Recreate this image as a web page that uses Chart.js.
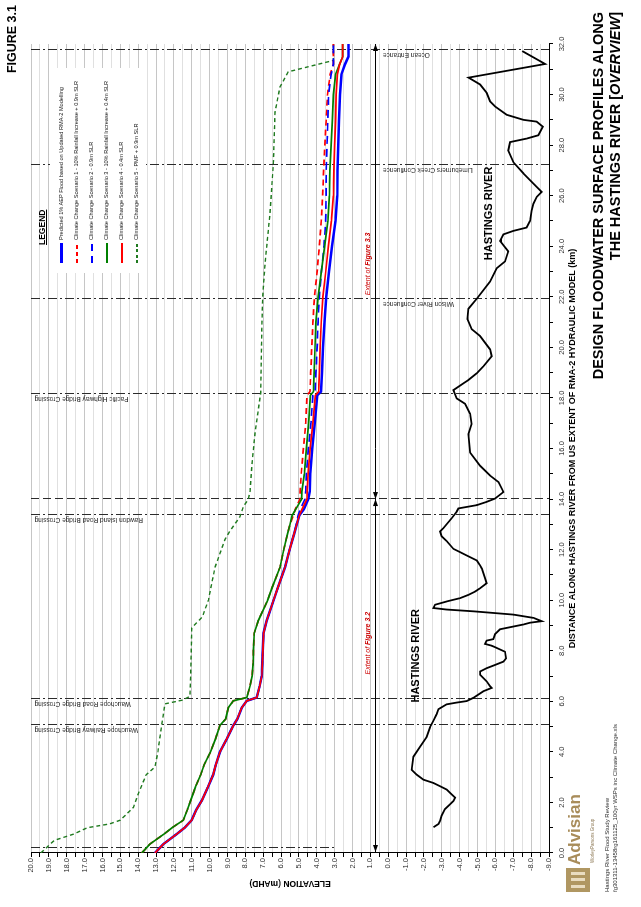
<!DOCTYPE html>
<html lang="en">
<head>
<meta charset="utf-8">
<title>Figure 3.1 - Design floodwater surface profiles along the Hastings River</title>
<script src="https://cdn.jsdelivr.net/npm/chart.js@4.4.1/dist/chart.umd.min.js"></script>
<style>
  html, body { margin: 0; padding: 0; background: #fff; }
  body { width: 641px; height: 907px; overflow: hidden; position: relative; font-family: 'Liberation Sans', Arial, sans-serif; color: #000; }
  /* the sheet is laid out landscape and turned a quarter turn anticlockwise */
  #page { position: absolute; left: 0; top: 0; width: 907px; height: 641px; transform-origin: 0 0; transform: translate(0, 907px) rotate(-90deg); }
  #chart { position: absolute; left: 0; top: 0; }
  #figNo { position: absolute; right: 5px; top: 5px; font-weight: bold; font-size: 12.5px; }
  #title { position: absolute; right: 12px; top: 590px; text-align: right; font-weight: bold; font-size: 14.5px; line-height: 17px; white-space: nowrap; }
  #legendTitle { position: absolute; left: 662px; top: 37px; font-weight: bold; font-size: 8.5px; text-decoration: underline; }
  #legend { position: absolute; left: 634px; top: 50px; width: 205px; height: 96px; background: #fff; }
  #legend .item { position: absolute; left: 10px; height: 10px; font-size: 5.6px; line-height: 10px; white-space: nowrap; color: #222; }
  #legend .swatch { display: inline-block; width: 20px; height: 2px; vertical-align: middle; margin-right: 3px; }
  #mark { position: absolute; left: 15px; top: 566px; width: 24px; height: 24px; background: #b09762; }
  #mark span { position: absolute; top: 5px; width: 3px; height: 14px; background: #e9dcc0; }
  #brand { position: absolute; left: 42px; top: 565px; font-weight: bold; font-size: 17px; color: #a88c5a; }
  #group { position: absolute; left: 44px; top: 590px; font-size: 4.5px; color: #8a7550; }
  #ref { position: absolute; left: 15px; top: 603px; font-size: 6px; line-height: 8px; color: #333; white-space: nowrap; }
</style>
</head>
<body>
<div id="page">
  <canvas id="chart" width="907" height="641"></canvas>
  <div id="figNo">FIGURE 3.1</div>
  <div id="title">DESIGN FLOODWATER SURFACE PROFILES ALONG<br>THE HASTINGS RIVER [<i>OVERVIEW</i>]</div>
  <div id="legendTitle">LEGEND</div>
  <div id="legend">
    <div class="item" style="top:6px"><span class="swatch" style="height:2.5px;background:#0000ff"></span>Predicted 1% AEP Flood based on Updated RMA-2 Modelling</div>
    <div class="item" style="top:21px"><span class="swatch" style="background:repeating-linear-gradient(90deg,#ff0000 0 4px,transparent 4px 7px)"></span>Climate Change Scenario 1 - 10% Rainfall Increase + 0.9m SLR</div>
    <div class="item" style="top:36px"><span class="swatch" style="background:repeating-linear-gradient(90deg,#0000ff 0 7px,transparent 7px 12px)"></span>Climate Change Scenario 2 - 0.9m SLR</div>
    <div class="item" style="top:51px"><span class="swatch" style="background:#008000"></span>Climate Change Scenario 3 - 10% Rainfall Increase + 0.4m SLR</div>
    <div class="item" style="top:66px"><span class="swatch" style="background:#ff0000"></span>Climate Change Scenario 4 - 0.4m SLR</div>
    <div class="item" style="top:81px"><span class="swatch" style="background:repeating-linear-gradient(90deg,#1f7a1f 0 3px,transparent 3px 5.5px)"></span>Climate Change Scenario 5 - PMF + 0.9m SLR</div>
  </div>
  <div id="mark"><span style="left:4px"></span><span style="left:10.5px"></span><span style="left:17px"></span></div>
  <div id="brand">Advisian</div>
  <div id="group">WorleyParsons Group</div>
  <div id="ref">Hastings River Flood Study Review<br>fg301311-13458rg161125_100yr WSPs inc Climate Change.xls</div>
</div>
<script>
// chainage (km from upstream model limit) used by the five flood profiles
const profileKm = [0, 0.35, 0.75, 1.0, 1.3, 1.7, 2.1, 2.6, 3.1, 3.5, 4.0, 4.5, 5.05, 5.3, 5.75, 6.02, 6.15, 6.6, 7.0, 7.5,
  8.0, 8.7, 9.2, 10.0, 10.5, 11.3, 12.0, 12.6, 13.0, 13.35, 13.6, 14.0, 14.3, 15.0, 16.0, 17.0, 18.1, 18.25, 19.0, 20.0,
  21.0, 22.0, 23.0, 24.0, 25.0, 26.0, 27.0, 28.0, 29.0, 30.0, 30.8, 31.2, 31.5, 32.0];

// water levels (mAHD)
const predicted1pc = [13.06, 12.59, 11.84, 11.40, 11.00, 10.75, 10.42, 10.10, 9.80, 9.65, 9.42, 9.05, 8.67, 8.45, 8.20, 7.92, 7.36, 7.20, 7.08, 7.05,
  7.02, 6.98, 6.80, 6.42, 6.18, 5.78, 5.52, 5.28, 5.12, 4.98, 4.72, 4.47, 4.40, 4.36, 4.26, 4.12, 3.98, 3.76, 3.71, 3.65,
  3.57, 3.47, 3.32, 3.15, 2.95, 2.86, 2.84, 2.80, 2.75, 2.70, 2.62, 2.42, 2.23, 2.23];
const scenario1 = [13.80, 13.35, 12.55, 12.10, 11.47, 11.25, 11.05, 10.80, 10.50, 10.30, 9.95, 9.68, 9.42, 9.10, 8.95, 8.67, 7.92, 7.74, 7.62, 7.56,
  7.55, 7.50, 7.27, 6.75, 6.50, 6.06, 5.85, 5.65, 5.50, 5.31, 5.20, 4.94, 4.93, 4.87, 4.75, 4.62, 4.55, 4.38, 4.34, 4.28,
  4.22, 4.13, 3.98, 3.86, 3.75, 3.67, 3.62, 3.55, 3.47, 3.40, 3.25, 3.07, 3.07, 3.07];
const scenario2 = [13.06, 12.59, 11.84, 11.40, 11.00, 10.75, 10.42, 10.10, 9.80, 9.65, 9.42, 9.05, 8.67, 8.45, 8.20, 7.92, 7.36, 7.20, 7.08, 7.05,
  7.02, 6.98, 6.80, 6.42, 6.18, 5.78, 5.52, 5.29, 5.14, 5.05, 4.92, 4.66, 4.62, 4.58, 4.47, 4.33, 4.22, 4.10, 4.05, 3.98,
  3.93, 3.86, 3.74, 3.60, 3.50, 3.48, 3.47, 3.43, 3.38, 3.34, 3.20, 3.07, 3.07, 3.07];
const scenario3 = [13.80, 13.35, 12.55, 12.10, 11.47, 11.25, 11.05, 10.80, 10.50, 10.30, 9.95, 9.68, 9.42, 9.10, 8.95, 8.67, 7.92, 7.74, 7.62, 7.56,
  7.55, 7.50, 7.27, 6.75, 6.50, 6.06, 5.85, 5.65, 5.50, 5.38, 5.18, 4.85, 4.83, 4.70, 4.58, 4.46, 4.36, 4.19, 4.15, 4.10,
  4.05, 3.93, 3.74, 3.56, 3.38, 3.30, 3.27, 3.20, 3.13, 3.07, 2.95, 2.72, 2.55, 2.55];
const scenario4 = [13.06, 12.59, 11.84, 11.40, 11.00, 10.75, 10.42, 10.10, 9.80, 9.65, 9.42, 9.05, 8.67, 8.45, 8.20, 7.92, 7.36, 7.20, 7.08, 7.05,
  7.02, 6.98, 6.80, 6.42, 6.18, 5.78, 5.52, 5.28, 5.12, 4.98, 4.82, 4.56, 4.54, 4.49, 4.37, 4.22, 4.08, 3.90, 3.86, 3.81,
  3.75, 3.66, 3.50, 3.35, 3.18, 3.07, 3.04, 3.00, 2.95, 2.92, 2.85, 2.72, 2.55, 2.55];

// PMF profile has its own chainages
const pmfKm = [0.0, 0.3, 0.5, 0.75, 1.0, 1.15, 1.3, 1.8, 2.35, 3.1, 3.4, 4.0, 5.08, 5.9, 6.05, 6.2, 7.0, 8.0, 8.9, 9.35,
  10.0, 11.3, 12.4, 12.7, 13.3, 13.7, 14.0, 14.3, 15.3, 16.6, 18.2, 20.7, 22.0, 23.3, 25.3, 27.3, 29.3, 30.3, 30.9, 31.15, 31.35, 32.0];
const scenario5 = [19.45, 19.0, 18.7, 17.6, 16.85, 15.6, 15.0, 14.27, 13.99, 13.55, 13.06, 12.9, 12.68, 12.5, 11.5, 11.1, 11.06, 11.03, 11.0, 10.4,
  10.07, 9.70, 9.14, 8.9, 8.3, 8.11, 7.83, 7.74, 7.64, 7.46, 7.14, 7.08, 7.03, 6.90, 6.62, 6.43, 6.34, 6.06, 5.6, 4.2, 3.07, 3.07];

// river bed
const bedKm = [1.02, 1.15, 1.28, 1.48, 1.74, 1.93, 2.06, 2.19, 2.32, 2.51, 2.64, 2.77, 2.90, 3.10, 3.29, 3.81, 4.20, 4.59, 4.98, 5.24,
  5.49, 5.69, 5.88, 5.95, 6.01, 6.14, 6.40, 6.53, 6.60, 6.79, 7.05, 7.18, 7.31, 7.44, 7.57, 7.70, 7.96, 8.14, 8.20, 8.27,
  8.40, 8.46, 8.66, 8.85, 9.04, 9.11, 9.17, 9.30, 9.43, 9.56, 9.63, 9.69, 9.82, 9.95, 10.08, 10.21, 10.34, 10.47, 10.67, 10.86,
  11.25, 11.38, 11.57, 11.77, 11.90, 12.03, 12.34, 12.53, 12.72, 12.85, 13.24, 13.50, 13.63, 13.76, 13.89, 14.02, 14.28, 14.67, 14.93, 15.32,
  15.84, 16.57, 16.97, 17.37, 17.77, 17.98, 18.31, 18.58, 18.71, 18.98, 19.25, 19.65, 19.92, 20.45, 20.72, 21.12, 21.53, 21.93, 22.60, 23.13,
  23.40, 23.80, 24.21, 24.47, 24.61, 24.74, 25.01, 25.41, 25.68, 25.95, 26.15, 26.35, 26.88, 27.32, 27.79, 28.12, 28.26, 28.39, 28.73, 28.93,
  29.00, 29.20, 29.53, 29.73, 30.07, 30.40, 30.67, 31.21, 31.72];
const bedLevel = [-2.53, -2.81, -2.90, -2.99, -3.18, -3.46, -3.65, -3.74, -3.55, -3.27, -2.90, -2.53, -1.97, -1.59, -1.31, -1.41, -1.78, -2.15, -2.34, -2.53,
  -2.71, -2.81, -3.27, -3.83, -4.39, -4.77, -5.33, -5.79, -5.70, -5.51, -5.14, -5.14, -5.51, -5.98, -6.45, -6.60, -6.54, -5.98, -5.79, -5.42,
  -5.51, -5.88, -5.98, -6.26, -7.57, -7.94, -8.59, -8.13, -7.01, -4.77, -3.27, -2.53, -2.62, -3.27, -4.02, -4.49, -4.86, -5.14, -5.51, -5.42,
  -5.24, -5.14, -4.96, -4.39, -4.02, -3.65, -3.27, -2.99, -2.90, -3.09, -3.55, -3.83, -3.93, -4.96, -5.51, -5.98, -6.45, -6.17, -5.70, -5.14,
  -4.58, -4.49, -4.67, -4.58, -4.30, -3.83, -3.65, -4.21, -4.49, -4.96, -5.33, -5.79, -5.70, -5.14, -4.67, -4.43, -4.49, -4.96, -5.70, -6.07,
  -6.54, -6.72, -6.26, -6.45, -7.01, -7.75, -7.94, -8.03, -8.13, -8.31, -8.59, -8.31, -7.57, -7.01, -6.72, -6.82, -7.75, -8.40, -8.65, -8.31,
  -7.57, -6.63, -5.98, -5.70, -5.51, -5.14, -4.49, -8.78, -7.50];

// crossings and confluences along the river
const structureKm = [5.07, 6.08, 13.35, 18.15, 21.9, 27.2, 31.75];
const structureNames = ['Wauchope Railway Bridge Crossing', 'Wauchope Road Bridge Crossing', 'Rawdon Island Road Bridge Crossing',
  'Pacific Highway Bridge Crossing', 'Wilson River Confluence', 'Limeburners Creek Confluence', 'Ocean Entrance'];
const upstreamLimitKm = 0.18;
const extentKm = [0, 14, 32];
const extentNames = ['Figure 3.2', 'Figure 3.3'];

const DASH_DOT = [9, 3, 2, 3];
const FONT = "'Liberation Sans', Arial, sans-serif";
const NARROW = "'Liberation Sans Narrow', 'Liberation Sans', Arial, sans-serif";

const annotate = {
  id: 'annotate',
  beforeDatasetsDraw(chart) {
    const { ctx, scales: { x, y } } = chart;
    const top = y.getPixelForValue(20);
    ctx.save();
    ctx.strokeStyle = '#2b2b2b';
    ctx.fillStyle = '#2b2b2b';
    ctx.lineWidth = 1;

    const vline = (km, toLevel, dash) => {
      const px = Math.round(x.getPixelForValue(km)) + 0.5;
      ctx.setLineDash(dash);
      ctx.beginPath();
      ctx.moveTo(px, top);
      ctx.lineTo(px, y.getPixelForValue(toLevel));
      ctx.stroke();
      return px;
    };

    vline(upstreamLimitKm, 3, DASH_DOT);
    vline(extentKm[1], -9, [8, 4]);

    ctx.font = '6.5px ' + FONT;
    ctx.textAlign = 'right';
    ctx.textBaseline = 'middle';
    structureKm.forEach((km, i) => {
      const px = vline(km, -9, DASH_DOT);
      const name = structureNames[i];
      const anchor = name.includes('Bridge') ? 19.8 : 0.3;
      ctx.save();
      ctx.translate(px - 5, y.getPixelForValue(anchor));
      ctx.rotate(-Math.PI / 2);
      ctx.fillText(name, 0, 0);
      ctx.restore();
    });

    // extent arrows
    ctx.setLineDash([]);
    ctx.strokeStyle = '#000';
    ctx.fillStyle = '#000';
    const ay = Math.round(y.getPixelForValue(0.75)) + 0.5;
    const ends = extentKm.map(km => x.getPixelForValue(km));
    ctx.beginPath();
    ctx.moveTo(ends[0], ay);
    ctx.lineTo(ends[2], ay);
    ctx.stroke();
    const head = (px, dir) => {
      ctx.beginPath();
      ctx.moveTo(px, ay);
      ctx.lineTo(px - dir * 7, ay - 2.5);
      ctx.lineTo(px - dir * 7, ay + 2.5);
      ctx.closePath();
      ctx.fill();
    };
    head(ends[0] + 1, -1);
    head(ends[2], 1);
    head(ends[1], 1);
    head(ends[1], -1);

    // extent captions
    const labelKm = [8.3, 23.3];
    ctx.fillStyle = '#cc0000';
    ctx.textBaseline = 'middle';
    ctx.textAlign = 'left';
    extentNames.forEach((name, i) => {
      const a = 'Extent of ';
      ctx.font = 'italic 7px ' + FONT;
      const wa = ctx.measureText(a).width;
      ctx.font = 'italic bold 7px ' + FONT;
      const wb = ctx.measureText(name).width;
      const cx = x.getPixelForValue(labelKm[i]) - (wa + wb) / 2;
      const cy = y.getPixelForValue(1.13);
      ctx.font = 'italic 7px ' + FONT;
      ctx.fillText(a, cx, cy);
      ctx.font = 'italic bold 7px ' + FONT;
      ctx.fillText(name, cx + wa, cy);
    });

    // river names
    ctx.fillStyle = '#000';
    ctx.font = 'bold 11px ' + FONT;
    ctx.textAlign = 'center';
    ctx.fillText('HASTINGS RIVER', x.getPixelForValue(7.8), y.getPixelForValue(-1.56));
    ctx.fillText('HASTINGS RIVER', x.getPixelForValue(25.3), y.getPixelForValue(-5.64));
    ctx.restore();
  }
};

const series = (label, xs, ys, color, width, dash, order) => ({
  label,
  data: xs.map((km, i) => ({ x: km, y: ys[i] })),
  borderColor: color,
  borderWidth: width,
  borderDash: dash,
  order,
  pointRadius: 0,
  fill: false,
  tension: 0
});

new Chart(document.getElementById('chart'), {
  type: 'line',
  data: {
    datasets: [
      series('Climate Change Scenario 4 - 0.4m SLR', profileKm, scenario4, '#ff0000', 1.7, [], 1),
      series('Climate Change Scenario 3 - 10% Rainfall Increase + 0.4m SLR', profileKm, scenario3, '#008000', 1.7, [], 2),
      series('Climate Change Scenario 2 - 0.9m SLR', profileKm, scenario2, '#0000ff', 1.7, [8, 5], 3),
      series('Predicted 1% AEP Flood based on Updated RMA-2 Modelling', profileKm, predicted1pc, '#0000ff', 2.5, [], 4),
      series('Climate Change Scenario 1 - 10% Rainfall Increase + 0.9m SLR', profileKm, scenario1, '#ff0000', 1.7, [6, 4], 5),
      series('Climate Change Scenario 5 - PMF + 0.9m SLR', pmfKm, scenario5, '#1f7a1f', 1.4, [4, 3], 6),
      series('Hastings River bed', bedKm, bedLevel, '#000000', 1.8, [], 7)
    ]
  },
  options: {
    responsive: false,
    animation: false,
    devicePixelRatio: 1,
    layout: { padding: { left: 0, right: 44, top: 31, bottom: 0 } },
    plugins: { legend: { display: false }, tooltip: { enabled: false } },
    scales: {
      x: {
        type: 'linear',
        min: 0,
        max: 32,
        afterFit: scale => { scale.height = 92; },
        ticks: {
          stepSize: 1,
          autoSkip: false,
          maxRotation: 0,
          padding: 4,
          color: '#333',
          font: { family: NARROW, size: 7.5 },
          callback: v => (v % 2 === 0 ? v.toFixed(1) : '')
        },
        grid: { drawOnChartArea: false, tickLength: 4, tickColor: '#000' },
        border: { color: '#000', width: 1 },
        title: {
          display: true,
          text: 'DISTANCE ALONG HASTINGS RIVER FROM US EXTENT OF RMA-2 HYDRAULIC MODEL (km)',
          color: '#000',
          font: { family: NARROW, size: 9, weight: 'bold' },
          padding: { top: 0, bottom: 63 }
        }
      },
      y: {
        type: 'linear',
        min: -9,
        max: 20,
        afterFit: scale => { scale.width = 54; },
        ticks: {
          stepSize: 0.5,
          autoSkip: false,
          padding: 1,
          color: '#333',
          font: { family: NARROW, size: 7.5 },
          callback: v => (Number.isInteger(v) ? v.toFixed(1) : '')
        },
        grid: {
          color: c => (c.tick && Number.isInteger(c.tick.value) ? '#c6c6c6' : '#e0e0e0'),
          tickLength: 4,
          tickColor: '#000'
        },
        border: { color: '#000', width: 1 },
        title: {
          display: true,
          text: 'ELEVATION (mAHD)',
          color: '#000',
          font: { family: NARROW, size: 8.5, weight: 'bold' },
          padding: { top: 19, bottom: 0 }
        }
      }
    }
  },
  plugins: [annotate]
});
</script>
</body>
</html>
